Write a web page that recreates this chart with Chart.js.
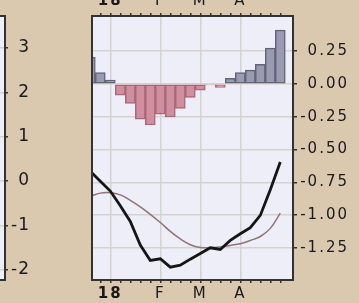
<!DOCTYPE html>
<html>
<head>
<meta charset="utf-8">
<script src="https://cdn.jsdelivr.net/npm/chart.js@4.4.1/dist/chart.umd.min.js"></script>
<style>
  html, body { margin: 0; padding: 0; background: #dac9ae; }
  #wrap { position: relative; width: 359px; height: 303px; overflow: hidden; }
  canvas { position: absolute; top: 0; }
  #left { left: -20px; }
  #main { left: 0; }
</style>
</head>
<body>
<div id="wrap">
  <canvas id="left" width="50" height="303"></canvas>
  <canvas id="main" width="359" height="303"></canvas>
</div>
<script>
// weekly points, index 0 = last week of 2017
const weekIndex = [0, 1, 2, 3, 4, 5, 6, 7, 8, 9, 10, 11, 12, 13, 14, 15, 16, 17, 18, 19];
const histValues = [0.203, 0.088, 0.029, -0.086, -0.149, -0.269, -0.313, -0.231, -0.252, -0.187,
                    -0.103, -0.047, -0.007, -0.027, 0.044, 0.088, 0.106, 0.151, 0.274, 0.411];
const macdValues = [-0.667, -0.743, -0.817, -0.929, -1.049, -1.229, -1.347, -1.334, -1.398, -1.383,
                    -1.337, -1.294, -1.250, -1.263, -1.194, -1.143, -1.097, -1.003, -0.807, -0.596];
const signalValues = [-0.858, -0.833, -0.830, -0.846, -0.888, -0.938, -0.995, -1.057, -1.125, -1.183,
                      -1.227, -1.248, -1.248, -1.245, -1.232, -1.219, -1.194, -1.164, -1.102, -0.985];

const weekTicks = [1, 2, 3, 4, 5, 6, 7, 8, 9, 10, 11, 12, 13, 14, 15, 16, 17, 18, 19];
const monthTicks = [2, 7, 11, 15];
const monthLabels = ["18", "F", "M", "A"];
const rightTicks = [-1.25, -1, -0.75, -0.5, -0.25, 0, 0.25];
const leftTicks = [-2, -1, 0, 1, 2, 3];

const gridColor = "#d6d2cd";
const tickColor = "#333333";
const textColor = "#1a1a1a";

const panelPlugin = {
  id: "panel",
  beforeDraw(chart, args, opts) {
    const { ctx, chartArea: a } = chart;
    ctx.save();
    ctx.fillStyle = opts.fill;
    ctx.fillRect(a.left, a.top, a.width, a.height);
    ctx.restore();
  },
  afterDraw(chart, args, opts) {
    const { ctx, chartArea: a } = chart;
    ctx.save();
    ctx.strokeStyle = opts.edge;
    ctx.lineWidth = 2;
    ctx.strokeRect(a.left, a.top, a.width, a.height);
    ctx.restore();
  }
};

// the axis text in the picture is wide, so space the letters out
const spacingPlugin = {
  id: "spacing",
  beforeUpdate(chart, args, opts) { chart.ctx.letterSpacing = opts.px + "px"; },
  beforeDraw(chart, args, opts) { chart.ctx.letterSpacing = opts.px + "px"; }
};

function monthLabel(v) {
  const i = monthTicks.indexOf(v);
  return i >= 0 ? monthLabels[i] : "";
}

function xAxis(position, height, onArea) {
  return {
    type: "linear",
    position: position,
    min: 0.17,
    max: 20.27,
    offset: false,
    afterBuildTicks: s => { s.ticks = weekTicks.map(v => ({ value: v })); },
    afterFit: s => { s.height = height; },
    border: { display: false },
    grid: {
      offset: false,
      drawOnChartArea: onArea,
      color: c => (c.tick && monthTicks.includes(c.tick.value)) ? gridColor : "rgba(0,0,0,0)",
      tickColor: tickColor,
      tickLength: 3,
      lineWidth: 1.5
    },
    ticks: {
      autoSkip: false,
      maxRotation: 0,
      padding: position === "top" ? 1 : 2,
      color: textColor,
      font: c => ({
        family: "DejaVu Sans",
        size: 15,
        lineHeight: position === "top" ? 1.5 : 1.2,
        weight: (c.tick && c.tick.value === 2) ? "bold" : "normal"
      }),
      callback: v => monthLabel(v)
    }
  };
}

const pts = vals => weekIndex.map((x, i) => ({ x: x, y: vals[i] }));

new Chart(document.getElementById("main"), {
  type: "bar",
  data: {
    datasets: [
      {
        type: "line",
        data: pts(macdValues),
        borderColor: "#151515",
        borderWidth: 2.8,
        pointRadius: 0,
        tension: 0,
        clip: 0,
        order: 1
      },
      {
        type: "line",
        data: pts(signalValues),
        borderColor: "#8f7474",
        borderWidth: 1.5,
        pointRadius: 0,
        tension: 0.4,
        clip: 0,
        order: 2
      },
      {
        type: "bar",
        data: pts(histValues),
        backgroundColor: c => c.raw && c.raw.y >= 0 ? "#9a9ab0" : "#cf8f9f",
        borderColor: c => c.raw && c.raw.y >= 0 ? "#646478" : "#a9687a",
        borderWidth: 1.5,
        borderSkipped: false,
        barPercentage: 1,
        categoryPercentage: 1,
        clip: 0,
        order: 3
      }
    ]
  },
  options: {
    responsive: false,
    animation: false,
    devicePixelRatio: 1,
    layout: { padding: { left: 92, right: 10, top: 0, bottom: 0 } },
    plugins: {
      legend: { display: false },
      tooltip: { enabled: false },
      panel: { fill: "#eeeef8", edge: "#333333" },
      spacing: { px: 2 }
    },
    scales: {
      x: xAxis("bottom", 23, true),
      x2: xAxis("top", 16, false),
      y: {
        type: "linear",
        position: "right",
        min: -1.496,
        max: 0.519,
        afterBuildTicks: s => { s.ticks = rightTicks.map(v => ({ value: v })); },
        afterFit: s => { s.width = 56; },
        border: { display: false },
        grid: { color: gridColor, lineWidth: 1.5, tickColor: tickColor, tickLength: 4 },
        ticks: {
          crossAlign: "far",
          padding: 3,
          color: textColor,
          font: { family: "DejaVu Sans", size: 15 },
          callback: v => v.toFixed(2)
        }
      }
    }
  },
  plugins: [panelPlugin, spacingPlugin]
});

// neighbouring panel, only its right edge and axis are in view
new Chart(document.getElementById("left"), {
  type: "line",
  data: { datasets: [] },
  options: {
    responsive: false,
    animation: false,
    devicePixelRatio: 1,
    layout: { padding: { left: 6, right: 0, top: 16, bottom: 23 } },
    plugins: {
      legend: { display: false },
      tooltip: { enabled: false },
      panel: { fill: "#eeeef8", edge: "#333333" },
      spacing: { px: 1 }
    },
    scales: {
      x: { type: "linear", display: false, min: 0, max: 1 },
      y: {
        type: "linear",
        position: "right",
        min: -2.23,
        max: 3.72,
        afterBuildTicks: s => { s.ticks = leftTicks.map(v => ({ value: v })); },
        afterFit: s => { s.width = 25; },
        border: { display: false },
        grid: { color: gridColor, lineWidth: 1.5, tickColor: tickColor, tickLength: 3 },
        ticks: {
          crossAlign: "far",
          padding: 3,
          color: textColor,
          font: { family: "DejaVu Sans", size: 17 },
          callback: v => String(v)
        }
      }
    }
  },
  plugins: [panelPlugin, spacingPlugin]
});
</script>
</body>
</html>
